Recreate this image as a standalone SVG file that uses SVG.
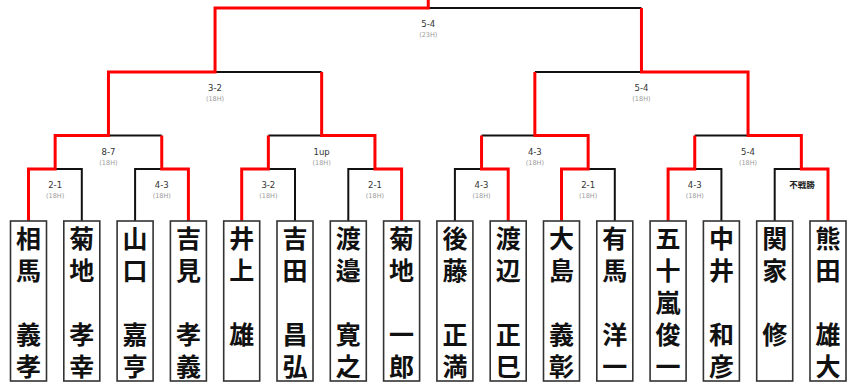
<svg xmlns="http://www.w3.org/2000/svg" width="853" height="383" viewBox="0 0 853 383">
<style>
.bg{fill:#fff}
.box{fill:#fff;stroke:#333;stroke-width:1.6}
.nm{font-family:"Noto Sans CJK JP","Noto Sans CJK SC",sans-serif;font-size:25px;font-weight:700;fill:#111;writing-mode:vertical-rl;letter-spacing:7px;text-orientation:upright}
.nm tspan{letter-spacing:0}
.blk{fill:none;stroke:#111;stroke-width:2;stroke-linejoin:miter}
.red{fill:none;stroke:#f00;stroke-width:3;stroke-linejoin:miter}
.sc{font-family:"DejaVu Sans","Liberation Sans",sans-serif;font-size:8.5px;fill:#333;text-anchor:middle}
.hl{font-family:"DejaVu Sans","Liberation Sans",sans-serif;font-size:6.5px;fill:#999;text-anchor:middle}
.fs{font-family:"Noto Sans CJK JP",sans-serif;font-size:8.5px;font-weight:700;fill:#222;text-anchor:middle}
</style>
<rect class="bg" x="0" y="0" width="853" height="383"/>
<g id="connectors">
<g id="black-lines">
<polyline class="blk" points="55.15,169 81.8,169 81.8,221"/>
<polyline class="blk" points="161.75,169 135.1,169 135.1,221"/>
<polyline class="blk" points="268.35,169 295,169 295,221"/>
<polyline class="blk" points="374.95,169 348.3,169 348.3,221"/>
<polyline class="blk" points="481.55,169 454.9,169 454.9,221"/>
<polyline class="blk" points="588.15,169 614.8,169 614.8,221"/>
<polyline class="blk" points="694.75,169 721.4,169 721.4,221"/>
<polyline class="blk" points="801.35,169 774.7,169 774.7,221"/>
<polyline class="blk" points="108.45,135.5 161.75,135.5"/>
<polyline class="blk" points="321.65,135.5 268.35,135.5"/>
<polyline class="blk" points="534.85,135.5 481.55,135.5"/>
<polyline class="blk" points="748.05,135.5 694.75,135.5"/>
<polyline class="blk" points="215.05,72 321.65,72"/>
<polyline class="blk" points="641.45,72 534.85,72"/>
<polyline class="blk" points="428.25,8 641.45,8"/>
</g>
<g id="red-lines">
<polyline class="red" points="28.5,221 28.5,169 55.15,169 55.15,135.5 108.45,135.5 108.45,72 215.05,72 215.05,8 428.25,8 428.25,0"/>
<polyline class="red" points="188.4,221 188.4,169 161.75,169 161.75,135.5"/>
<polyline class="red" points="241.7,221 241.7,169 268.35,169 268.35,135.5"/>
<polyline class="red" points="401.6,221 401.6,169 374.95,169 374.95,135.5 321.65,135.5 321.65,72"/>
<polyline class="red" points="508.2,221 508.2,169 481.55,169 481.55,135.5"/>
<polyline class="red" points="561.5,221 561.5,169 588.15,169 588.15,135.5 534.85,135.5 534.85,72"/>
<polyline class="red" points="668.1,221 668.1,169 694.75,169 694.75,135.5"/>
<polyline class="red" points="828,221 828,169 801.35,169 801.35,135.5 748.05,135.5 748.05,72 641.45,72 641.45,8"/>
</g>
<g id="labels">
<text class="sc" x="428.25" y="27">5-4</text><text class="hl" x="428.25" y="37">(23H)</text>
<text class="sc" x="215.05" y="91">3-2</text><text class="hl" x="215.05" y="101">(18H)</text>
<text class="sc" x="641.45" y="91">5-4</text><text class="hl" x="641.45" y="101">(18H)</text>
<text class="sc" x="108.45" y="155">8-7</text><text class="hl" x="108.45" y="165">(18H)</text>
<text class="sc" x="321.65" y="155">1up</text><text class="hl" x="321.65" y="165">(18H)</text>
<text class="sc" x="534.85" y="155">4-3</text><text class="hl" x="534.85" y="165">(18H)</text>
<text class="sc" x="748.05" y="155">5-4</text><text class="hl" x="748.05" y="165">(18H)</text>
<text class="sc" x="55.15" y="187.5">2-1</text><text class="hl" x="55.15" y="197.5">(18H)</text>
<text class="sc" x="161.75" y="187.5">4-3</text><text class="hl" x="161.75" y="197.5">(18H)</text>
<text class="sc" x="268.35" y="187.5">3-2</text><text class="hl" x="268.35" y="197.5">(18H)</text>
<text class="sc" x="374.95" y="187.5">2-1</text><text class="hl" x="374.95" y="197.5">(18H)</text>
<text class="sc" x="481.55" y="187.5">4-3</text><text class="hl" x="481.55" y="197.5">(18H)</text>
<text class="sc" x="588.15" y="187.5">2-1</text><text class="hl" x="588.15" y="197.5">(18H)</text>
<text class="sc" x="694.75" y="187.5">4-3</text><text class="hl" x="694.75" y="197.5">(18H)</text>
<text class="fs" x="802" y="188">不戦勝</text>
</g>
</g>
<g id="p0"><rect class="box" x="10.5" y="221" width="36" height="160"/><text class="nm" x="28.5" y="225.5">相馬　義<tspan>孝</tspan></text></g>
<g id="p1"><rect class="box" x="63.8" y="221" width="36" height="160"/><text class="nm" x="81.8" y="225.5">菊地　孝<tspan>幸</tspan></text></g>
<g id="p2"><rect class="box" x="117.1" y="221" width="36" height="160"/><text class="nm" x="135.1" y="225.5">山口　嘉<tspan>亨</tspan></text></g>
<g id="p3"><rect class="box" x="170.4" y="221" width="36" height="160"/><text class="nm" x="188.4" y="225.5">吉見　孝<tspan>義</tspan></text></g>
<g id="p4"><rect class="box" x="223.7" y="221" width="36" height="160"/><text class="nm" x="241.7" y="225.5">井上　<tspan>雄</tspan></text></g>
<g id="p5"><rect class="box" x="277" y="221" width="36" height="160"/><text class="nm" x="295" y="225.5">吉田　昌<tspan>弘</tspan></text></g>
<g id="p6"><rect class="box" x="330.3" y="221" width="36" height="160"/><text class="nm" x="348.3" y="225.5">渡邉　寛<tspan>之</tspan></text></g>
<g id="p7"><rect class="box" x="383.6" y="221" width="36" height="160"/><text class="nm" x="401.6" y="225.5">菊地　一<tspan>郎</tspan></text></g>
<g id="p8"><rect class="box" x="436.9" y="221" width="36" height="160"/><text class="nm" x="454.9" y="225.5">後藤　正<tspan>満</tspan></text></g>
<g id="p9"><rect class="box" x="490.2" y="221" width="36" height="160"/><text class="nm" x="508.2" y="225.5">渡辺　正<tspan>巳</tspan></text></g>
<g id="p10"><rect class="box" x="543.5" y="221" width="36" height="160"/><text class="nm" x="561.5" y="225.5">大島　義<tspan>彰</tspan></text></g>
<g id="p11"><rect class="box" x="596.8" y="221" width="36" height="160"/><text class="nm" x="614.8" y="225.5">有馬　洋<tspan>一</tspan></text></g>
<g id="p12"><rect class="box" x="650.1" y="221" width="36" height="160"/><text class="nm" x="668.1" y="225.5">五十嵐俊<tspan>一</tspan></text></g>
<g id="p13"><rect class="box" x="703.4" y="221" width="36" height="160"/><text class="nm" x="721.4" y="225.5">中井　和<tspan>彦</tspan></text></g>
<g id="p14"><rect class="box" x="756.7" y="221" width="36" height="160"/><text class="nm" x="774.7" y="225.5">関家　<tspan>修</tspan></text></g>
<g id="p15"><rect class="box" x="810" y="221" width="36" height="160"/><text class="nm" x="828" y="225.5">熊田　雄<tspan>大</tspan></text></g>
</svg>
